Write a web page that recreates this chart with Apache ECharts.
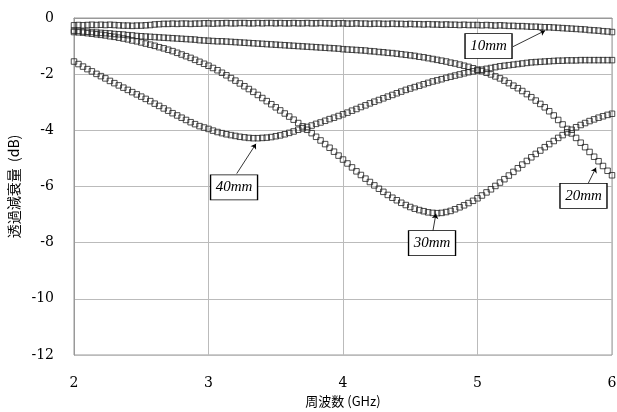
<!DOCTYPE html>
<html><head><meta charset="utf-8">
<script src="https://cdn.jsdelivr.net/npm/echarts@6/dist/echarts.min.js"></script>
<style>html,body{margin:0;padding:0;background:#fff}#c{width:617px;height:412px}</style>
</head><body><div id="c"></div>
<script>
// Frequency sweep points (GHz)
const freq = [2,2.033,2.067,2.1,2.133,2.167,2.2,2.233,2.267,2.3,2.333,2.367,2.4,2.433,2.467,2.5,2.533,2.567,2.6,2.633,2.667,2.7,2.733,2.767,2.8,2.833,2.867,2.9,2.933,2.967,
3,3.033,3.067,3.1,3.133,3.167,3.2,3.233,3.267,3.3,3.333,3.367,3.4,3.433,3.467,3.5,3.533,3.567,3.6,3.633,3.667,3.7,3.733,3.767,3.8,3.833,3.867,3.9,3.933,3.967,
4,4.033,4.067,4.1,4.133,4.167,4.2,4.233,4.267,4.3,4.333,4.367,4.4,4.433,4.467,4.5,4.533,4.567,4.6,4.633,4.667,4.7,4.733,4.767,4.8,4.833,4.867,4.9,4.933,4.967,
5,5.033,5.067,5.1,5.133,5.167,5.2,5.233,5.267,5.3,5.333,5.367,5.4,5.433,5.467,5.5,5.533,5.567,5.6,5.633,5.667,5.7,5.733,5.767,5.8,5.833,5.867,5.9,5.933,5.967,6];

const s10mm = [-0.26,-0.25,-0.26,-0.25,-0.24,-0.25,-0.24,-0.25,-0.24,-0.25,
-0.26,-0.27,-0.27,-0.28,-0.27,-0.27,-0.26,-0.25,-0.23,-0.22,
-0.21,-0.21,-0.20,-0.21,-0.20,-0.20,-0.21,-0.20,-0.20,-0.19,
-0.19,-0.20,-0.19,-0.19,-0.18,-0.19,-0.19,-0.18,-0.18,-0.19,
-0.19,-0.18,-0.19,-0.18,-0.18,-0.19,-0.18,-0.19,-0.19,-0.18,
-0.19,-0.19,-0.18,-0.19,-0.19,-0.18,-0.19,-0.19,-0.20,-0.19,
-0.19,-0.20,-0.20,-0.19,-0.20,-0.20,-0.21,-0.20,-0.20,-0.21,
-0.21,-0.20,-0.21,-0.21,-0.22,-0.21,-0.22,-0.22,-0.23,-0.22,
-0.23,-0.23,-0.24,-0.23,-0.24,-0.24,-0.25,-0.24,-0.25,-0.25,
-0.25,-0.26,-0.25,-0.26,-0.27,-0.26,-0.27,-0.28,-0.28,-0.29,
-0.29,-0.30,-0.31,-0.31,-0.32,-0.33,-0.33,-0.34,-0.35,-0.36,
-0.37,-0.38,-0.39,-0.40,-0.41,-0.43,-0.44,-0.45,-0.47,-0.48,-0.50];

const s20mm = [-0.45,-0.46,-0.48,-0.49,-0.50,-0.52,-0.53,-0.54,-0.55,-0.57,
-0.58,-0.59,-0.61,-0.62,-0.64,-0.65,-0.66,-0.67,-0.68,-0.69,
-0.70,-0.71,-0.72,-0.73,-0.74,-0.75,-0.76,-0.77,-0.79,-0.80,
-0.81,-0.82,-0.83,-0.83,-0.84,-0.85,-0.86,-0.87,-0.88,-0.89,
-0.90,-0.91,-0.92,-0.93,-0.94,-0.95,-0.96,-0.97,-0.98,-0.99,
-1.00,-1.01,-1.02,-1.03,-1.04,-1.05,-1.06,-1.07,-1.08,-1.09,
-1.11,-1.12,-1.13,-1.14,-1.15,-1.16,-1.18,-1.19,-1.21,-1.22,
-1.24,-1.25,-1.27,-1.29,-1.31,-1.33,-1.35,-1.38,-1.40,-1.43,
-1.46,-1.49,-1.52,-1.55,-1.59,-1.62,-1.66,-1.70,-1.74,-1.79,
-1.84,-1.89,-1.95,-2.01,-2.08,-2.15,-2.23,-2.32,-2.41,-2.50,
-2.60,-2.71,-2.82,-2.94,-3.06,-3.18,-3.32,-3.47,-3.63,-3.79,
-3.95,-4.11,-4.27,-4.44,-4.60,-4.77,-4.94,-5.10,-5.27,-5.44,-5.60];

const s30mm = [-0.50,-0.51,-0.52,-0.54,-0.56,-0.58,-0.60,-0.62,-0.65,-0.67,
-0.70,-0.73,-0.76,-0.80,-0.83,-0.87,-0.91,-0.95,-0.99,-1.04,
-1.08,-1.13,-1.18,-1.24,-1.30,-1.36,-1.42,-1.49,-1.56,-1.63,
-1.70,-1.78,-1.86,-1.95,-2.04,-2.14,-2.23,-2.33,-2.43,-2.53,
-2.63,-2.74,-2.85,-2.96,-3.07,-3.18,-3.29,-3.40,-3.51,-3.62,
-3.74,-3.86,-3.98,-4.10,-4.23,-4.36,-4.49,-4.62,-4.76,-4.90,
-5.04,-5.18,-5.32,-5.46,-5.59,-5.72,-5.84,-5.96,-6.08,-6.19,
-6.30,-6.40,-6.49,-6.58,-6.66,-6.73,-6.79,-6.84,-6.88,-6.92,
-6.94,-6.95,-6.94,-6.91,-6.87,-6.81,-6.74,-6.67,-6.59,-6.51,
-6.42,-6.32,-6.21,-6.10,-5.98,-5.86,-5.74,-5.61,-5.48,-5.35,
-5.22,-5.09,-4.96,-4.84,-4.72,-4.60,-4.49,-4.38,-4.27,-4.17,
-4.07,-3.98,-3.89,-3.81,-3.74,-3.67,-3.61,-3.55,-3.50,-3.45,-3.41];

const s40mm = [-1.55,-1.64,-1.73,-1.82,-1.90,-1.99,-2.07,-2.15,-2.24,-2.32,
-2.40,-2.48,-2.56,-2.64,-2.72,-2.80,-2.88,-2.96,-3.05,-3.13,
-3.22,-3.30,-3.39,-3.47,-3.55,-3.63,-3.71,-3.78,-3.85,-3.90,
-3.95,-4.01,-4.06,-4.10,-4.14,-4.17,-4.20,-4.23,-4.25,-4.27,
-4.28,-4.28,-4.27,-4.26,-4.24,-4.21,-4.18,-4.14,-4.09,-4.04,
-3.98,-3.93,-3.88,-3.83,-3.77,-3.72,-3.66,-3.60,-3.55,-3.49,
-3.43,-3.37,-3.30,-3.24,-3.17,-3.11,-3.04,-2.98,-2.92,-2.86,
-2.80,-2.74,-2.68,-2.62,-2.56,-2.51,-2.46,-2.41,-2.36,-2.31,
-2.26,-2.22,-2.18,-2.13,-2.09,-2.05,-2.01,-1.97,-1.93,-1.90,
-1.87,-1.84,-1.81,-1.78,-1.75,-1.72,-1.70,-1.68,-1.66,-1.64,
-1.62,-1.60,-1.58,-1.57,-1.56,-1.55,-1.54,-1.53,-1.52,-1.52,
-1.51,-1.51,-1.51,-1.50,-1.50,-1.50,-1.50,-1.50,-1.50,-1.50,-1.50];

const seriesNames = ['10mm','20mm','30mm','40mm'];
const seriesValues = [s10mm, s20mm, s30mm, s40mm];

// Annotation callouts (data coordinates): label box centre, arrow start, arrow end
const annoBox   = [[5.082,-1.0],[5.788,-6.33],[4.662,-8.02],[3.19,-6.03]];
const annoStart = [[5.264,-1.02],[5.822,-5.9],[4.669,-7.57],[3.21,-5.54]];
const annoEnd   = [[5.502,-0.45],[5.881,-5.33],[4.691,-6.97],[3.353,-4.48]];

const serif = "'DejaVu Serif','Liberation Serif',serif";
const italicSerif = "'Liberation Serif',serif";
const cjk = "'Noto Sans CJK JP','Noto Sans',sans-serif";

const chart = echarts.init(document.getElementById('c'), null, {renderer:'canvas'});
const series = seriesNames.map((name, k) => ({
  name: name,
  type: 'scatter',
  symbol: 'rect',
  symbolSize: 5.5,
  silent: true,
  animation: false,
  itemStyle: { color: 'rgba(255,255,255,0)', borderColor: '#222', borderWidth: 1 },
  data: freq.map((f, i) => [f, seriesValues[k][i]]),
  markLine: {
    silent: true, animation: false,
    symbol: ['none', 'arrow'], symbolSize: 5,
    lineStyle: { color: '#000', width: 0.8, type: 'solid' },
    label: { show: false },
    data: [[{ coord: annoStart[k] }, { coord: annoEnd[k] }]]
  },
  markPoint: {
    silent: true, animation: false,
    symbol: 'rect', symbolSize: [47, 25],
    itemStyle: { color: '#fff', borderColor: '#000', borderWidth: 1 },
    label: { show: true, position: 'inside', formatter: name, color: '#000',
             fontFamily: italicSerif, fontStyle: 'italic', fontSize: 15 },
    data: [{ coord: annoBox[k], name: name }]
  }
}));

chart.setOption({
  animation: false,
  backgroundColor: '#fff',
  grid: { left: 74, right: 5, top: 18, bottom: 57, containLabel: false,
          outerBoundsMode: 'none',
          show: true, borderColor: '#999', borderWidth: 1 },
  xAxis: {
    type: 'value', min: 2, max: 6, interval: 1,
    name: '周波数 (GHz)', nameLocation: 'middle', nameGap: 40,
    nameTextStyle: { fontFamily: cjk, fontSize: 13, color: '#000' },
    axisLine: { show: true, lineStyle: { color: '#999' } },
    axisTick: { show: false },
    axisLabel: { margin: 21, fontFamily: serif, fontSize: 14, color: '#000' },
    splitLine: { show: true, lineStyle: { color: '#bbb', width: 1 } }
  },
  yAxis: {
    type: 'value', min: -12, max: 0, interval: 2,
    name: '透過減衰量  (dB)', nameLocation: 'middle', nameGap: 51, nameRotate: 90,
    nameTextStyle: { fontFamily: cjk, fontSize: 14, color: '#000' },
    axisLine: { show: true, lineStyle: { color: '#999' } },
    axisTick: { show: false },
    axisLabel: { margin: 20, fontFamily: serif, fontSize: 14, color: '#000' },
    splitLine: { show: true, lineStyle: { color: '#bbb', width: 1 } }
  },
  series: series
});
</script></body></html>
